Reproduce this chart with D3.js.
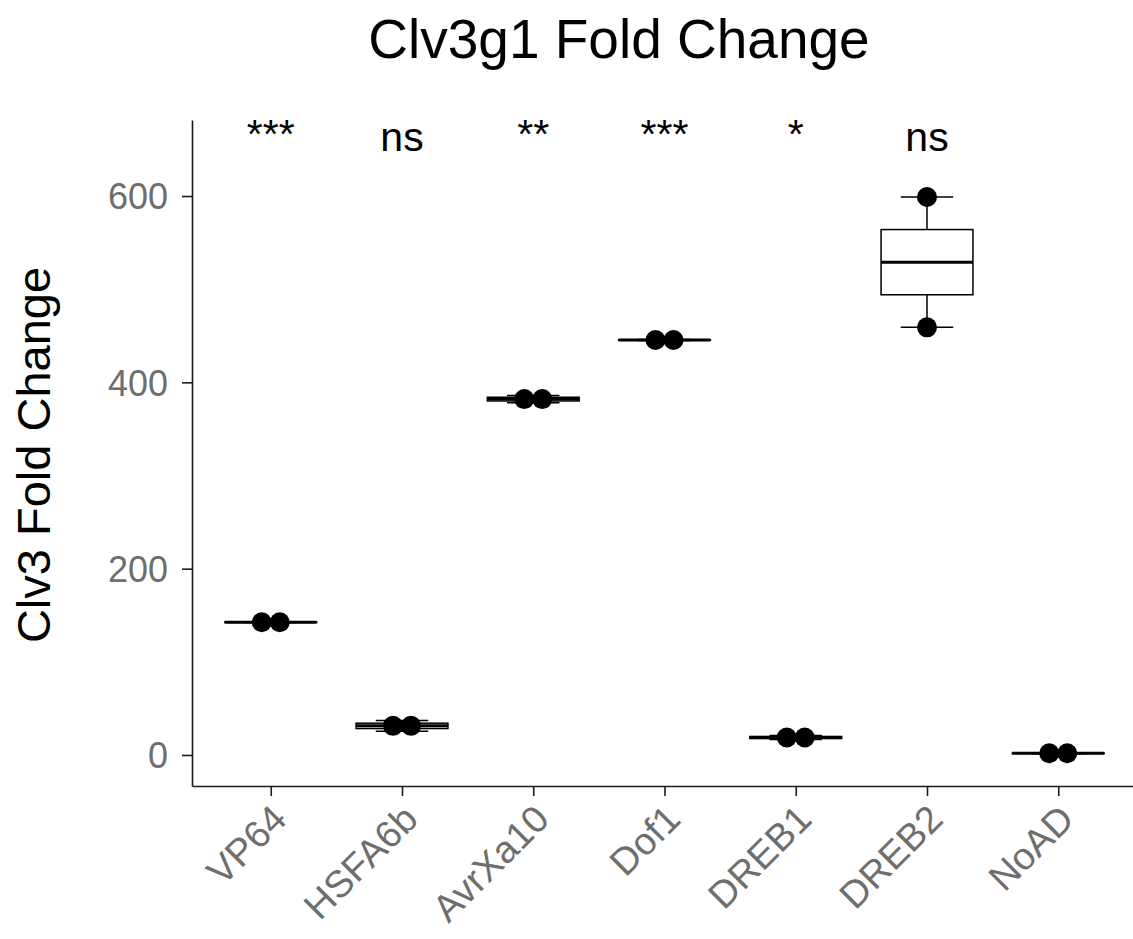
<!DOCTYPE html>
<html>
<head>
<meta charset="utf-8">
<script src="https://cdn.jsdelivr.net/npm/d3@7"></script>
<style>
  html, body { margin: 0; padding: 0; background: #fff; }
  svg { display: block; font-family: "Liberation Sans", Arial, Helvetica, sans-serif; }
</style>
</head>
<body>
<svg id="chart" width="1133" height="939"></svg>
<script>
// ---- data ----
const categories = ["VP64", "HSFA6b", "AvrXa10", "Dof1", "DREB1", "DREB2", "NoAD"];
const rep1 = [142.2, 25.5, 378, 445.0, 16.5, 459, 1.5];
const rep2 = [142.8, 37.0, 386, 446.0, 21.0, 599, 2.2];
const signifLabels = ["***", "ns", "**", "***", "*", "ns", ""];
const yTicks = [0, 200, 400, 600];
const titleText = "Clv3g1 Fold Change";
const yLabelText = "Clv3 Fold Change";
const labelValue = 648;

// ---- layout ----
const svg = d3.select("#chart");
const x = d3.scalePoint().domain(categories).range([192, 1137]).padding(0.6);
const y = d3.scaleLinear().domain([-33.3, 681.6]).range([786, 120]);
const step = x.step();
const boxW = 0.7 * step, capW = 0.4 * step;
const dotR = 10, dotGap = 18, binWidth = 20;

const groups = categories.map((c, i) => {
  const vals = [rep1[i], rep2[i]].sort(d3.ascending);
  return {
    cat: c,
    vals,
    q1: d3.quantile(vals, 0.25),
    med: d3.quantile(vals, 0.5),
    q3: d3.quantile(vals, 0.75),
    lo: d3.min(vals),
    hi: d3.max(vals),
    label: signifLabels[i]
  };
});

// title
svg.append("text")
  .attr("x", 619).attr("y", 58)
  .attr("text-anchor", "middle")
  .attr("font-size", 55)
  .attr("fill", "#000")
  .text(titleText);

// y label
svg.append("text")
  .attr("transform", "translate(50,455) rotate(-90)")
  .attr("text-anchor", "middle")
  .attr("font-size", 47)
  .attr("fill", "#000")
  .text(yLabelText);

// axes
const yAxis = svg.append("g")
  .attr("transform", "translate(192,0)")
  .call(d3.axisLeft(y).tickValues(yTicks).tickSize(10).tickSizeOuter(0).tickPadding(14));
const xAxis = svg.append("g")
  .attr("transform", "translate(0,786)")
  .call(d3.axisBottom(x).tickSize(10).tickSizeOuter(0));

[yAxis, xAxis].forEach(a => {
  a.selectAll(".domain").attr("stroke", "#1a1a1a").attr("stroke-width", 1.6);
  a.selectAll(".tick line").attr("stroke", "#1a1a1a").attr("stroke-width", 1.6);
  a.selectAll(".tick text")
    .attr("fill", "#6e6e6e")
    .attr("font-size", 36)
    .attr("font-family", "Liberation Sans, Arial, sans-serif");
});
yAxis.selectAll(".tick text").attr("dy", "0.36em");
xAxis.selectAll(".tick text")
  .attr("font-size", 38)
  .attr("text-anchor", "end")
  .attr("x", 0).attr("y", 0).attr("dy", "0.72em")
  .attr("transform", "translate(-2,16) rotate(-45)");

// boxes
const plot = svg.append("g");
groups.forEach(g => {
  const cx = x(g.cat);
  const gg = plot.append("g");
  // whiskers
  gg.append("line").attr("x1", cx).attr("x2", cx).attr("y1", y(g.hi)).attr("y2", y(g.q3))
    .attr("stroke", "#000").attr("stroke-width", 1.5);
  gg.append("line").attr("x1", cx).attr("x2", cx).attr("y1", y(g.lo)).attr("y2", y(g.q1))
    .attr("stroke", "#000").attr("stroke-width", 1.5);
  // caps
  [g.lo, g.hi].forEach(v => {
    gg.append("line").attr("x1", cx - capW / 2).attr("x2", cx + capW / 2)
      .attr("y1", y(v)).attr("y2", y(v))
      .attr("stroke", "#000").attr("stroke-width", 1.5);
  });
  // box
  gg.append("rect")
    .attr("x", cx - boxW / 2).attr("width", boxW)
    .attr("y", y(g.q3)).attr("height", Math.max(0.01, y(g.q1) - y(g.q3)))
    .attr("fill", "#fff").attr("stroke", "#000").attr("stroke-width", 1.5);
  // median
  gg.append("line").attr("x1", cx - boxW / 2).attr("x2", cx + boxW / 2)
    .attr("y1", y(g.med)).attr("y2", y(g.med))
    .attr("stroke", "#000").attr("stroke-width", 3);
});

// dots (dotplot-style: values within a bin are stacked side by side)
groups.forEach(g => {
  const bins = [];
  g.vals.forEach(v => {
    const b = bins.find(b => Math.abs(d3.mean(b) - v) < binWidth);
    if (b) b.push(v); else bins.push([v]);
  });
  bins.forEach(b => {
    const cy = y(d3.mean(b));
    b.forEach((v, j) => {
      const off = (j - (b.length - 1) / 2) * dotGap;
      plot.append("circle")
        .attr("cx", x(g.cat) + off).attr("cy", cy).attr("r", dotR)
        .attr("fill", "#000");
    });
  });
});

// significance labels
svg.append("g").selectAll("text").data(groups).join("text")
  .attr("x", d => x(d.cat))
  .attr("y", y(labelValue))
  .attr("dy", d => d.label.startsWith("*") ? -3 : 0)
  .attr("text-anchor", "middle")
  .attr("font-size", 41)
  .attr("fill", "#000")
  .text(d => d.label);
</script>
</body>
</html>
